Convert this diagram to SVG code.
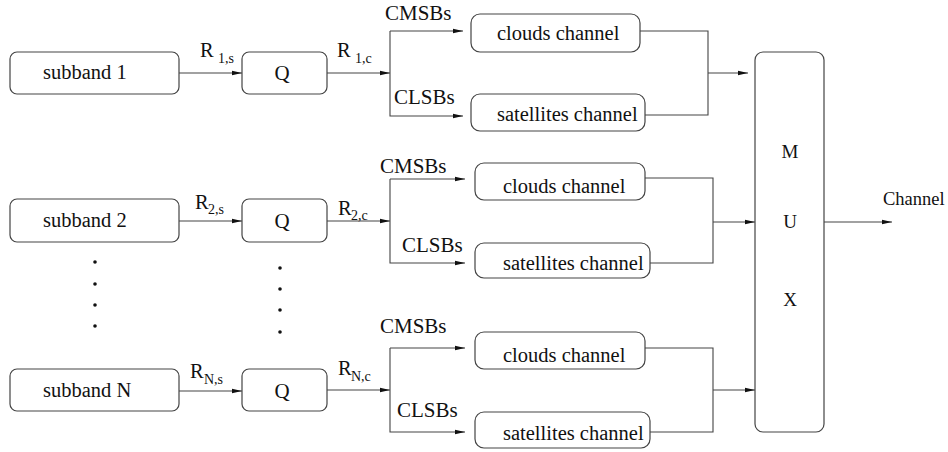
<svg xmlns="http://www.w3.org/2000/svg" width="948" height="452" viewBox="0 0 948 452">
  <style>
    .box { fill: #fff; stroke: #444; stroke-width: 1.2; }
    .wire { fill: none; stroke: #444; stroke-width: 1.1; }
    .t { font-family: "Liberation Serif", "Times New Roman", serif; font-size: 20.5px; fill: #111; }
    .lbl { font-family: "Liberation Serif", "Times New Roman", serif; font-size: 21px; fill: #111; }
    .mx { font-family: "Liberation Serif", "Times New Roman", serif; font-size: 19px; fill: #111; text-anchor: middle; }
    .sub { font-family: "Liberation Serif", "Times New Roman", serif; font-size: 14px; fill: #111; }
    .dot { fill: #111; }
  </style>
  <defs>
    <marker id="arr" viewBox="0 0 10 6" refX="10" refY="3" markerWidth="10" markerHeight="6" markerUnits="userSpaceOnUse" orient="auto">
      <path d="M0,0.8 L10,3 L0,5.2 Z" fill="#111"/>
    </marker>
  </defs>

  <!-- connectors -->
  <g id="connectors" class="wire">
    <!-- row 1 -->
    <line x1="179" y1="73" x2="242" y2="73" marker-end="url(#arr)"/>
    <line x1="327" y1="73" x2="390" y2="73" marker-end="url(#arr)"/>
    <polyline points="390,31 390,116 463,116" marker-end="url(#arr)"/>
    <line x1="390" y1="31" x2="463" y2="31" marker-end="url(#arr)"/>
    <polyline points="640,31 708,31 708,115 645,115"/>
    <line x1="708" y1="73" x2="748" y2="73" marker-end="url(#arr)"/>
    <!-- row 2 -->
    <line x1="179" y1="221" x2="242" y2="221" marker-end="url(#arr)"/>
    <line x1="327" y1="221" x2="390" y2="221" marker-end="url(#arr)"/>
    <polyline points="390,179 390,263 465,263" marker-end="url(#arr)"/>
    <line x1="390" y1="179" x2="465" y2="179" marker-end="url(#arr)"/>
    <polyline points="645,178 713,178 713,263 650,263"/>
    <line x1="713" y1="222" x2="755" y2="222" marker-end="url(#arr)"/>
    <!-- row N -->
    <line x1="179" y1="391" x2="242" y2="391" marker-end="url(#arr)"/>
    <line x1="327" y1="390" x2="390" y2="390" marker-end="url(#arr)"/>
    <polyline points="390,348 390,432 465,432" marker-end="url(#arr)"/>
    <line x1="390" y1="348" x2="465" y2="348" marker-end="url(#arr)"/>
    <polyline points="645,348 713,348 713,432 650,432"/>
    <line x1="713" y1="390" x2="755" y2="390" marker-end="url(#arr)"/>
    <!-- multiplexer output -->
    <line x1="824" y1="222" x2="892" y2="222" marker-end="url(#arr)"/>
  </g>

  <!-- subband sources -->
  <g id="subband1"><rect class="box" x="10" y="52" width="169" height="42" rx="7"/><text class="t" x="43" y="79">subband 1</text></g>
  <g id="subband2"><rect class="box" x="10" y="199" width="169" height="43" rx="7"/><text class="t" x="43" y="227">subband 2</text></g>
  <g id="subbandN"><rect class="box" x="10" y="369" width="169" height="42" rx="7"/><text class="t" x="43" y="397">subband N</text></g>

  <!-- quantizers -->
  <g id="q1"><rect class="box" x="242" y="52" width="85" height="42" rx="7"/><text class="lbl" x="282" y="80" text-anchor="middle">Q</text></g>
  <g id="q2"><rect class="box" x="242" y="199" width="85" height="43" rx="7"/><text class="lbl" x="282" y="228" text-anchor="middle">Q</text></g>
  <g id="qN"><rect class="box" x="242" y="369" width="85" height="42" rx="7"/><text class="lbl" x="282" y="398" text-anchor="middle">Q</text></g>

  <!-- channels -->
  <g id="clouds1"><rect class="box" x="471" y="14" width="169" height="38" rx="9"/><text class="t" x="497" y="40">clouds channel</text></g>
  <g id="satellites1"><rect class="box" x="471" y="94" width="174" height="37" rx="9"/><text class="t" x="497" y="121">satellites channel</text></g>
  <g id="clouds2"><rect class="box" x="475" y="163" width="170" height="37" rx="9"/><text class="t" x="503" y="193">clouds channel</text></g>
  <g id="satellites2"><rect class="box" x="475" y="243" width="175" height="35" rx="9"/><text class="t" x="503" y="270">satellites channel</text></g>
  <g id="cloudsN"><rect class="box" x="475" y="332" width="170" height="37" rx="9"/><text class="t" x="503" y="362">clouds channel</text></g>
  <g id="satellitesN"><rect class="box" x="475" y="412" width="175" height="36" rx="9"/><text class="t" x="503" y="440">satellites channel</text></g>

  <!-- multiplexer -->
  <g id="mux">
    <rect class="box" x="755" y="52" width="69" height="380" rx="8"/>
    <text class="mx" x="790" y="158">M</text>
    <text class="mx" x="790" y="228">U</text>
    <text class="mx" x="790" y="306">X</text>
  </g>

  <!-- labels -->
  <g id="labels">
    <text class="t" x="200" y="57">R</text><text class="sub" x="218" y="63">1,s</text>
    <text class="t" x="337" y="57">R</text><text class="sub" x="355" y="63">1,c</text>
    <text class="t" x="195" y="209">R</text><text class="sub" x="208" y="214">2,s</text>
    <text class="t" x="338" y="215">R</text><text class="sub" x="351" y="220">2,c</text>
    <text class="t" x="190" y="378">R</text><text class="sub" x="204" y="384">N,s</text>
    <text class="t" x="338" y="375">R</text><text class="sub" x="351" y="381">N,c</text>
    <text class="lbl" x="385" y="20">CMSBs</text>
    <text class="lbl" x="394" y="104">CLSBs</text>
    <text class="lbl" x="380" y="173">CMSBs</text>
    <text class="lbl" x="402" y="252">CLSBs</text>
    <text class="lbl" x="380" y="333">CMSBs</text>
    <text class="lbl" x="397" y="417">CLSBs</text>
    <text class="t" x="883" y="205" style="font-size:18.5px">Channel</text>
  </g>

  <!-- ellipsis dots -->
  <g id="dots" class="dot">
    <circle cx="95" cy="262" r="1.8"/><circle cx="95" cy="284" r="1.8"/><circle cx="95" cy="305" r="1.8"/><circle cx="95" cy="326" r="1.8"/>
    <circle cx="280" cy="268" r="1.8"/><circle cx="280" cy="289" r="1.8"/><circle cx="280" cy="310" r="1.8"/><circle cx="280" cy="332" r="1.8"/>
  </g>
</svg>
